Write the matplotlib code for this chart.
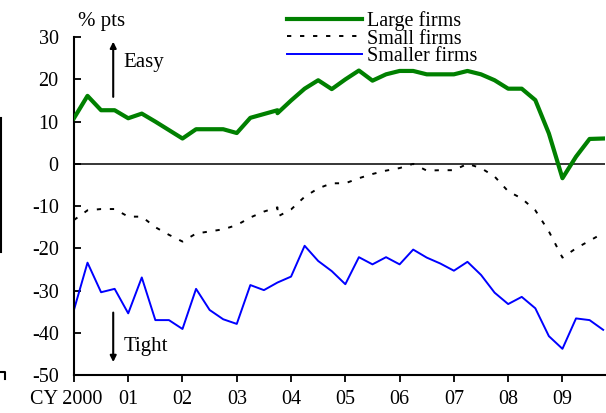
import numpy as np
import matplotlib
matplotlib.use("Agg")
import matplotlib.pyplot as plt
import matplotlib.transforms as mtransforms
from matplotlib.lines import Line2D

# quarterly dates, 2000Q1 .. 2009Q4; 2003Q4 appears twice (survey break)
quarters = [2000 + 0.25 * i for i in range(16)] + [2003.75] + [2004 + 0.25 * i for i in range(24)]

large = [10.8, 16.1, 12.7, 12.7, 10.8, 11.9, 10.0, 8.0, 6.0, 8.2, 8.2, 8.2, 7.3, 10.9, 11.8, 12.7,
         12.0, 15.0, 17.8, 19.8, 17.7, 20.0, 22.1, 19.7, 21.2, 22.0, 22.0, 21.2, 21.2, 21.2, 22.0,
         21.2, 19.8, 17.8, 17.8, 15.1, 7.2, -3.4, 1.7, 5.9, 6.0]
small = [-13.3, -11.0, -10.7, -10.7, -12.5, -12.5, -15.0, -16.8, -18.4, -16.5, -16.0, -15.5, -14.5,
         -12.7, -11.3, -10.3, -12.5, -10.8, -7.8, -5.8, -4.6, -4.6, -3.4, -2.4, -1.6, -1.0, 0.0,
         -1.6, -1.5, -1.5, 0.0, -1.0, -3.0, -6.5, -8.2, -11.0, -16.0, -22.2, -20.0, -18.2, -16.4]
smaller = [-34.6, -23.4, -30.4, -29.6, -35.4, -26.9, -37.0, -37.0, -39.1, -29.6, -34.6, -36.8, -37.9,
           -28.7, -29.9, -28.1, -28.1, -26.7, -19.4, -23.0, -25.4, -28.5, -22.1, -23.8, -22.1, -23.8,
           -20.3, -22.2, -23.6, -25.3, -23.2, -26.3, -30.5, -33.2, -31.5, -34.2, -40.8, -43.8, -36.6,
           -37.0, -39.3]

year_ticks = list(range(2000, 2010))
year_labels = ["CY 2000", "01", "02", "03", "04", "05", "06", "07", "08", "09"]
y_ticks = [30, 20, 10, 0, -10, -20, -30, -40, -50]

plt.rcParams['font.family'] = ['Liberation Serif', 'DejaVu Serif']

fig = plt.figure(figsize=(6.06, 4.13), dpi=100)
ax = fig.add_axes([0.122, 0.092, 0.876, 0.818])

ax.axhline(0, color='black', lw=1.1, zorder=1)
ax.plot(quarters, large, color='#008000', lw=3.0, label='Large firms', zorder=3)
ax.plot(quarters, small, color='black', lw=1.4, linestyle=(0, (2.2, 4.5)), label='Small firms', zorder=2)
ax.plot(quarters, smaller, color='#0000ff', lw=1.4, label='Smaller firms', zorder=2)

ax.set_xlim(2000, 2009.78)
ax.set_ylim(-50, 30)
ax.set_yticks(y_ticks)
ax.set_yticklabels([str(v) for v in y_ticks])
ax.set_xticks(year_ticks)
ax.set_xticklabels(year_labels)

for s in ['top', 'right']:
    ax.spines[s].set_visible(False)
ax.spines['left'].set_linewidth(1.5)
ax.spines['bottom'].set_linewidth(1.5)
ax.tick_params(axis='y', direction='in', length=5, width=1.3, labelsize=14.5, pad=11)
ax.tick_params(axis='x', direction='out', length=5, width=1.3, labelsize=14.5, pad=6)

# first x label sits a little left of its tick
first = ax.get_xticklabels()[0]
first.set_transform(first.get_transform() + mtransforms.ScaledTranslation(-8 / 100, 0, fig.dpi_scale_trans))

# annotations
ax.text(0.008, 1.045, "% pts", transform=ax.transAxes, fontsize=15, va='center', ha='left')
ax.annotate("", xy=(0.074, 0.995), xytext=(0.074, 0.815), xycoords='axes fraction',
            arrowprops=dict(arrowstyle='-|>', color='black', lw=1.5, mutation_scale=9))
ax.text(0.093, 0.925, "Easy", transform=ax.transAxes, fontsize=15, va='center', ha='left')
ax.annotate("", xy=(0.074, 0.03), xytext=(0.074, 0.193), xycoords='axes fraction',
            arrowprops=dict(arrowstyle='-|>', color='black', lw=1.5, mutation_scale=9))
ax.text(0.093, 0.085, "Tight", transform=ax.transAxes, fontsize=15, va='center', ha='left')

leg = ax.legend(loc='upper left', bbox_to_anchor=(0.375, 1.12), frameon=False, fontsize=14.5,
                handlelength=3.7, handletextpad=0.25, labelspacing=-0.06, borderpad=0.2)

# remnants of a neighbouring panel at the left edge
fig.add_artist(Line2D([0.002, 0.002], [1 - 118 / 413, 1 - 252 / 413], color='black', lw=1.5))
fig.add_artist(Line2D([0.0, 0.009, 0.009], [1 - 372 / 413, 1 - 372 / 413, 1 - 379 / 413], color='black', lw=1.5))

fig.savefig("out.png", dpi=100)
